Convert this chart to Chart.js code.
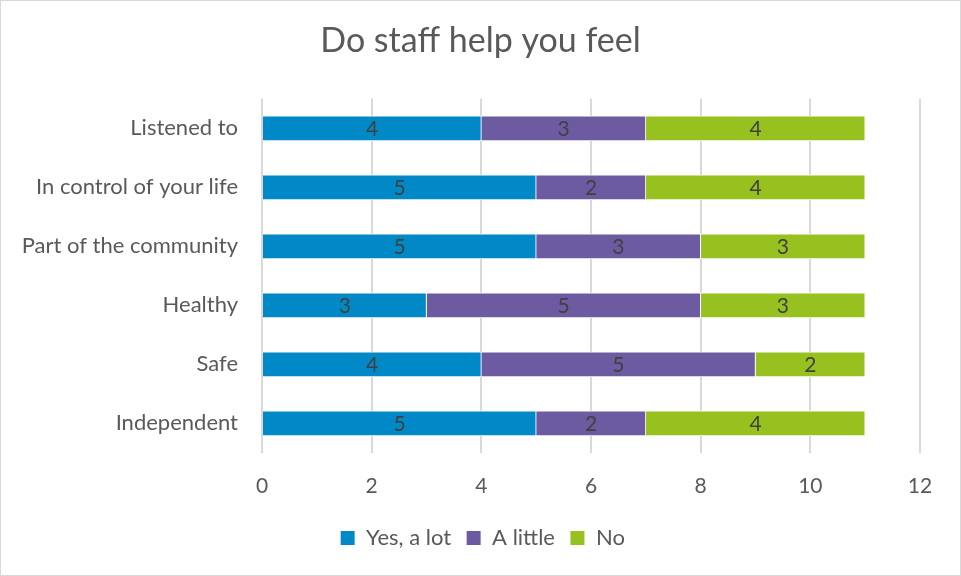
<!DOCTYPE html>
<html>
<head>
<meta charset="utf-8">
<script src="https://cdn.jsdelivr.net/npm/chart.js@4"></script>
<style>
  html, body { margin: 0; padding: 0; background: #fff; }
  #wrap { width: 959px; height: 574px; border: 1px solid #d9d9d9; }
</style>
</head>
<body>
<div id="wrap"><canvas id="chart" width="959" height="574"></canvas></div>
<script>
const categories = ['Listened to', 'In control of your life', 'Part of the community', 'Healthy', 'Safe', 'Independent'];
const yesALot = [4, 5, 5, 3, 4, 5];
const aLittle = [3, 2, 3, 5, 5, 2];
const no = [4, 4, 3, 3, 2, 4];
const xTicks = [0, 2, 4, 6, 8, 10, 12];

const FONT = 'Lato, "Open Sans", sans-serif';
const TEXT = '#595959';

// value labels centred in each segment
const segmentLabels = {
    id: 'segmentLabels',
    afterDatasetsDraw(chart) {
        const ctx = chart.ctx;
        ctx.save();
        ctx.font = '21px ' + FONT;
        ctx.fillStyle = '#404040';
        ctx.textAlign = 'center';
        ctx.textBaseline = 'middle';
        chart.data.datasets.forEach((ds, i) => {
            const meta = chart.getDatasetMeta(i);
            meta.data.forEach((bar, j) => {
                const v = ds.data[j];
                if (!v) return;
                const cx = (bar.x + bar.base) / 2;
                ctx.fillText(String(v), cx, bar.y + 1);
            });
        });
        ctx.restore();
    }
};

// centre title and legend on the canvas, pull the legend up a bit
const nudgeBlocks = {
    id: 'nudgeBlocks',
    afterLayout(chart) {
        const t = chart.titleBlock;
        if (t) { t.left += 10; t.right += 10; }
        const l = chart.legend;
        if (l) { l.left += 12; l.right += 12; l.top -= 8; l.bottom -= 8; }
    }
};

const ctx = document.getElementById('chart').getContext('2d');
new Chart(ctx, {
    type: 'bar',
    data: {
        labels: categories,
        datasets: [
            { label: 'Yes, a lot', data: yesALot, backgroundColor: '#0088c7' },
            { label: 'A little', data: aLittle, backgroundColor: '#6c5ba1' },
            { label: 'No', data: no, backgroundColor: '#97c11f' }
        ].map(d => Object.assign(d, { borderColor: '#ffffff', borderWidth: 1, barThickness: 25 }))
    },
    options: {
        indexAxis: 'y',
        responsive: false,
        animation: false,
        layout: { padding: { left: 20, right: 40, top: 16, bottom: 8 } },
        scales: {
            x: {
                stacked: true,
                min: 0,
                max: 12,
                afterBuildTicks: scale => { scale.ticks = xTicks.map(v => ({ value: v })); },
                grid: { color: '#d9d9d9', lineWidth: 2, drawTicks: false },
                border: { display: false },
                ticks: { color: TEXT, font: { family: FONT, size: 21 }, padding: 21 }
            },
            y: {
                stacked: true,
                grid: { display: false },
                border: { display: false },
                afterFit: scale => { scale.width = 241; },
                ticks: { color: TEXT, font: { family: FONT, size: 22 }, padding: 16 }
            }
        },
        plugins: {
            title: {
                display: true,
                text: 'Do staff help you feel',
                color: TEXT,
                font: { family: FONT, size: 34, weight: 'normal' },
                padding: { top: 4, bottom: 37 }
            },
            legend: {
                position: 'bottom',
                labels: {
                    color: TEXT,
                    font: { family: FONT, size: 22 },
                    boxWidth: 15,
                    boxHeight: 15,
                    padding: 15
                }
            },
            tooltip: { enabled: false }
        }
    },
    plugins: [segmentLabels, nudgeBlocks]
});
</script>
</body>
</html>
